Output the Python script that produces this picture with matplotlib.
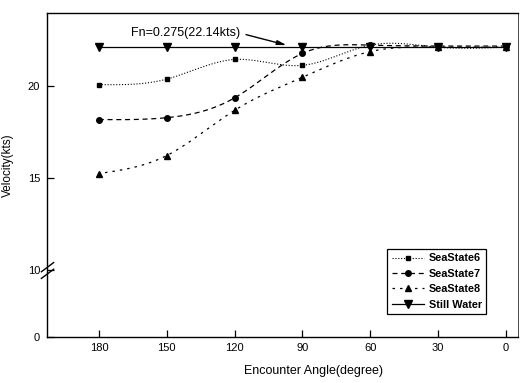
import numpy as np
from matplotlib import pyplot as plt
from matplotlib.lines import Line2D
from matplotlib.path import Path

plt.rcParams['font.family'] = ['Liberation Sans', 'DejaVu Sans']

angles = [180, 150, 120, 90, 60, 30, 0]
sea6 = [20.1, 20.4, 21.47, 21.15, 22.25, 22.14, 22.14]
sea7 = [18.2, 18.3, 19.38, 21.8, 22.25, 22.2, 22.2]
sea8 = [15.26, 16.24, 18.7, 20.5, 21.9, 22.14, 22.14]
still = [22.14, 22.14, 22.14, 22.14, 22.14, 22.14, 22.14]
labels = ['SeaState6', 'SeaState7', 'SeaState8', 'Still Water']
yticks = [0, 10, 15, 20]
xticks = [180, 150, 120, 90, 60, 30, 0]


def spline(x, y, n=300):
    # natural cubic spline, like the smooth lines in the original
    x = np.asarray(x, float)
    y = np.asarray(y, float)
    o = np.argsort(x)
    x, y = x[o], y[o]
    h = np.diff(x)
    N = len(x)
    A = np.zeros((N, N))
    r = np.zeros(N)
    A[0, 0] = A[-1, -1] = 1
    for i in range(1, N - 1):
        A[i, i - 1] = h[i - 1]
        A[i, i] = 2 * (h[i - 1] + h[i])
        A[i, i + 1] = h[i]
        r[i] = 3 * ((y[i + 1] - y[i]) / h[i] - (y[i] - y[i - 1]) / h[i - 1])
    c = np.linalg.solve(A, r)
    b = (y[1:] - y[:-1]) / h - h * (2 * c[:-1] + c[1:]) / 3
    d = (c[1:] - c[:-1]) / (3 * h)
    xs = np.linspace(x[0], x[-1], n)
    idx = np.clip(np.searchsorted(x, xs) - 1, 0, N - 2)
    dx = xs - x[idx]
    ys = y[idx] + b[idx] * dx + c[idx] * dx ** 2 + d[idx] * dx ** 3
    return xs, ys


# broken y axis: 0-10 squeezed
k = 0.364


def fwd(y):
    y = np.asarray(y, float)
    return np.where(y < 10, y * k, 10 * k + (y - 10))


def inv(t):
    t = np.asarray(t, float)
    return np.where(t < 10 * k, t / k, t - 10 * k + 10)


fig = plt.figure(figsize=(5.24, 3.83), dpi=100)
ax = fig.add_axes([47 / 524, 1 - 337 / 383, 471 / 524, 324 / 383])
ax.set_yscale('function', functions=(fwd, inv))

styles = [
    dict(ls=(0, (1, 1.6)), marker='s', ms=3.5, lw=0.8),
    dict(ls=(0, (4, 3)), marker='o', ms=4, lw=0.9),
    dict(ls=(0, (2, 4)), marker='^', ms=4.5, lw=0.9),
    dict(ls='-', marker='v', ms=6, lw=0.9),
]
handles = []
for vals, st, lab in zip([sea6, sea7, sea8, still], styles, labels):
    xs, ys = spline(angles, vals)
    ax.plot(xs, ys, color='black', ls=st['ls'], lw=st['lw'])
    ax.plot(angles, vals, ls='none', marker=st['marker'], ms=st['ms'],
            color='black')
    handles.append(Line2D([], [], color='black', ls=st['ls'], lw=st['lw'],
                          marker=st['marker'], ms=st['ms']))

ax.set_xlim(203, -5.4)
ax.set_ylim(0, 24)
ax.set_xticks(xticks)
ax.set_yticks(yticks)
ax.tick_params(direction='in', length=5, width=0.9, labelsize=8)
ax.tick_params(axis='y', pad=5)
ax.tick_params(axis='x', pad=4)
for s in ax.spines.values():
    s.set_linewidth(1.0)
ax.spines['right'].set_linewidth(0.5)

# break marks on the y axis at 10
brk = Path([(-0.8, -1), (0.8, 0.2), (-0.8, -0.2), (0.8, 1)],
           [Path.MOVETO, Path.LINETO, Path.MOVETO, Path.LINETO])
ax.plot(0, 10, marker=brk, ms=12, mfc='none', mec='black', mew=1.0,
        transform=ax.get_yaxis_transform(), clip_on=False)

ax.set_xlabel('Encounter Angle(degree)', fontsize=9)
ax.xaxis.set_label_coords(0.565, -0.085)
ax.set_ylabel('Velocity(kts)', fontsize=8.5)
ax.yaxis.set_label_coords(-0.07, 0.53)

ax.annotate('Fn=0.275(22.14kts)', xy=(97, 22.25), xytext=(141.5, 22.9),
            ha='center', va='center', fontsize=9,
            arrowprops=dict(arrowstyle='-|>,head_length=0.6,head_width=0.15',
                            color='black', lw=1.0, relpos=(1, 0.5),
                            shrinkA=2, shrinkB=0))

leg = ax.legend(handles, labels, loc='lower right',
                bbox_to_anchor=(0.932, 0.071), borderaxespad=0,
                prop=dict(weight='bold', size=7.8),
                handlelength=3.0, handletextpad=0.4, labelspacing=0.5,
                fancybox=False, edgecolor='black', framealpha=1)
leg.get_frame().set_linewidth(0.9)

fig.savefig('out.png', dpi=100)
